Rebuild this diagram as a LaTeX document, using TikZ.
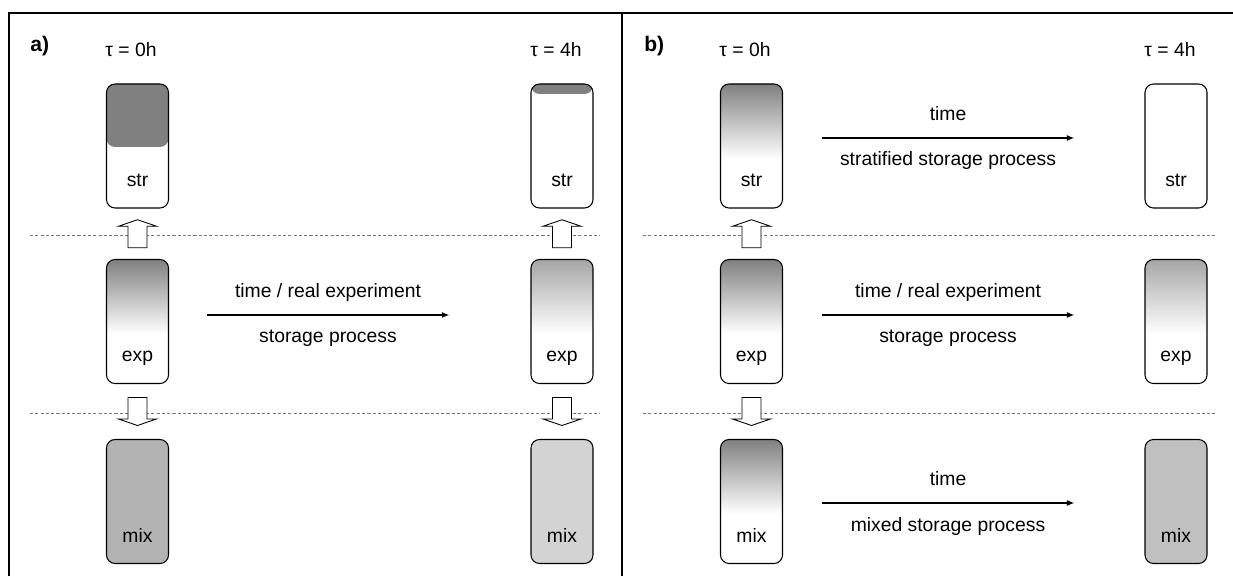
\documentclass[tikz,border=0pt]{standalone}
\usepackage{fontspec}
\setmainfont{Liberation Sans}
\usetikzlibrary{arrows.meta,calc}
\definecolor{tankdark}{RGB}{128,128,128}
\definecolor{tankfade}{RGB}{166,166,166}
\definecolor{mixzero}{RGB}{179,179,179}
\definecolor{mixfour}{RGB}{211,211,211}
\definecolor{mixlate}{RGB}{192,192,192}
\definecolor{sepgray}{RGB}{120,120,120}
\pgfdeclareverticalshading{fadedark}{100bp}{color(0bp)=(white); color(45bp)=(white);
  color(75bp)=(tankdark); color(100bp)=(tankdark)}
\pgfdeclareverticalshading{fadelight}{100bp}{color(0bp)=(white); color(45bp)=(white);
  color(75bp)=(tankfade); color(100bp)=(tankfade)}

\begin{document}
\begin{tikzpicture}[font=\fontsize{11}{13}\selectfont,
  tank/.style={draw,line width=.6pt,rounded corners=.17cm,minimum width=1.24cm,
    minimum height=2.48cm,inner sep=0pt,text height=2.05cm,text depth=.43cm},
  topfill/.style={path picture={\fill[tankdark] (path picture bounding box.north west)
    rectangle ([yshift=-#1]path picture bounding box.north east);}},
  topfade/.style={path picture={\shade[shading=#1] (path picture bounding box.south west)
    rectangle (path picture bounding box.north east);}},
  flow/.style={line width=1.1pt,-{Latex[length=.15cm,width=.12cm]}},
  sep/.style={sepgray,line width=.5pt,dash pattern=on 1.8pt off 1.2pt},
  hollow/.pic={\draw[fill=white,line width=.5pt] (-.19,-.28) -- (-.19,.15) -- (-.38,.15) -- (0,.28)
    -- (.38,.15) -- (.19,.15) -- (.19,-.28) -- cycle;}]
\useasboundingbox (0,0) rectangle (24.66,11.52);

% frame
\draw[line width=1.3pt] (.18,0) -- (.18,11.26) -- (24.66,11.26);
\draw[line width=1.3pt] (12.44,0) -- (12.44,11.26);
\node[anchor=base west,inner sep=0pt,font=\fontsize{12}{14}\selectfont\bfseries] (pa) at (.6,10.48) {a)};
\node[anchor=base west,inner sep=0pt,font=\fontsize{12}{14}\selectfont\bfseries] (pb) at (12.88,10.48) {b)};

% a) real experiment
\node[tank,topfill=1.26cm] (aS0) at (2.75,8.6) {str};
\node[tank,topfade=fadedark] (aE0) at (2.75,5.09) {exp};
\node[tank,fill=mixzero] (aM0) at (2.75,1.49) {mix};
\node[tank,topfill=.2cm] (aS4) at (11.24,8.6) {str};
\node[tank,topfade=fadelight] (aE4) at (11.24,5.09) {exp};
\node[tank,fill=mixfour] (aM4) at (11.24,1.49) {mix};
\node[anchor=base] (tauA0) at ([xshift=-.13cm,yshift=.54cm]aS0.north) {τ = 0h};
\node[anchor=base] (tauA4) at ([xshift=-.12cm,yshift=.54cm]aS4.north) {τ = 4h};

\draw[sep] (.6,6.82) -- (12,6.82);
\draw[sep] (.6,3.26) -- (12,3.26);
\pic at ($(aS0.south)!.5!(aE0.north)$) {hollow};
\pic[rotate=180] at ($(aE0.south)!.5!(aM0.north)$) {hollow};
\pic at ($(aS4.south)!.5!(aE4.north)$) {hollow};
\pic[rotate=180] at ($(aE4.south)!.5!(aM4.north)$) {hollow};

\coordinate (aFrom) at ([xshift=.75cm,yshift=.13cm]aE0.east);
\coordinate (aTo) at ([xshift=-1.62cm,yshift=.13cm]aE4.west);
\draw[flow] (aFrom) -- (aTo)
  node[midway,anchor=base,yshift=.34cm] (aUp) {time / real experiment}
  node[midway,anchor=base,yshift=-.56cm] (aDn) {storage process};

% b) model
\node[tank,topfade=fadedark] (bS0) at (15.03,8.6) {str};
\node[tank,topfade=fadedark] (bE0) at (15.03,5.09) {exp};
\node[tank,topfade=fadedark] (bM0) at (15.03,1.49) {mix};
\node[tank] (bS4) at (23.52,8.6) {str};
\node[tank,topfade=fadelight] (bE4) at (23.52,5.09) {exp};
\node[tank,fill=mixlate] (bM4) at (23.52,1.49) {mix};
\node[anchor=base] (tauB0) at ([xshift=-.13cm,yshift=.54cm]bS0.north) {τ = 0h};
\node[anchor=base] (tauB4) at ([xshift=-.12cm,yshift=.54cm]bS4.north) {τ = 4h};

\draw[sep] (12.86,6.82) -- (24.3,6.82);
\draw[sep] (12.86,3.26) -- (24.3,3.26);
\pic at ($(bS0.south)!.5!(bE0.north)$) {hollow};
\pic[rotate=180] at ($(bE0.south)!.5!(bM0.north)$) {hollow};

\coordinate (bFromS) at ([xshift=.77cm,yshift=.16cm]bS0.east);
\coordinate (bToS) at ([xshift=-1.4cm,yshift=.16cm]bS4.west);
\coordinate (bFromE) at ([xshift=.77cm,yshift=.13cm]bE0.east);
\coordinate (bToE) at ([xshift=-1.4cm,yshift=.13cm]bE4.west);
\coordinate (bFromM) at ([xshift=.77cm,yshift=-.03cm]bM0.east);
\coordinate (bToM) at ([xshift=-1.4cm,yshift=-.03cm]bM4.west);
\draw[flow] (bFromS) -- (bToS)
  node[midway,anchor=base,yshift=.34cm] (bUpS) {time}
  node[midway,anchor=base,yshift=-.56cm] (bDnS) {stratified storage process};
\draw[flow] (bFromE) -- (bToE)
  node[midway,anchor=base,yshift=.34cm] (bUpE) {time / real experiment}
  node[midway,anchor=base,yshift=-.56cm] (bDnE) {storage process};
\draw[flow] (bFromM) -- (bToM)
  node[midway,anchor=base,yshift=.34cm] (bUpM) {time}
  node[midway,anchor=base,yshift=-.56cm] (bDnM) {mixed storage process};
\end{tikzpicture}
\end{document}
